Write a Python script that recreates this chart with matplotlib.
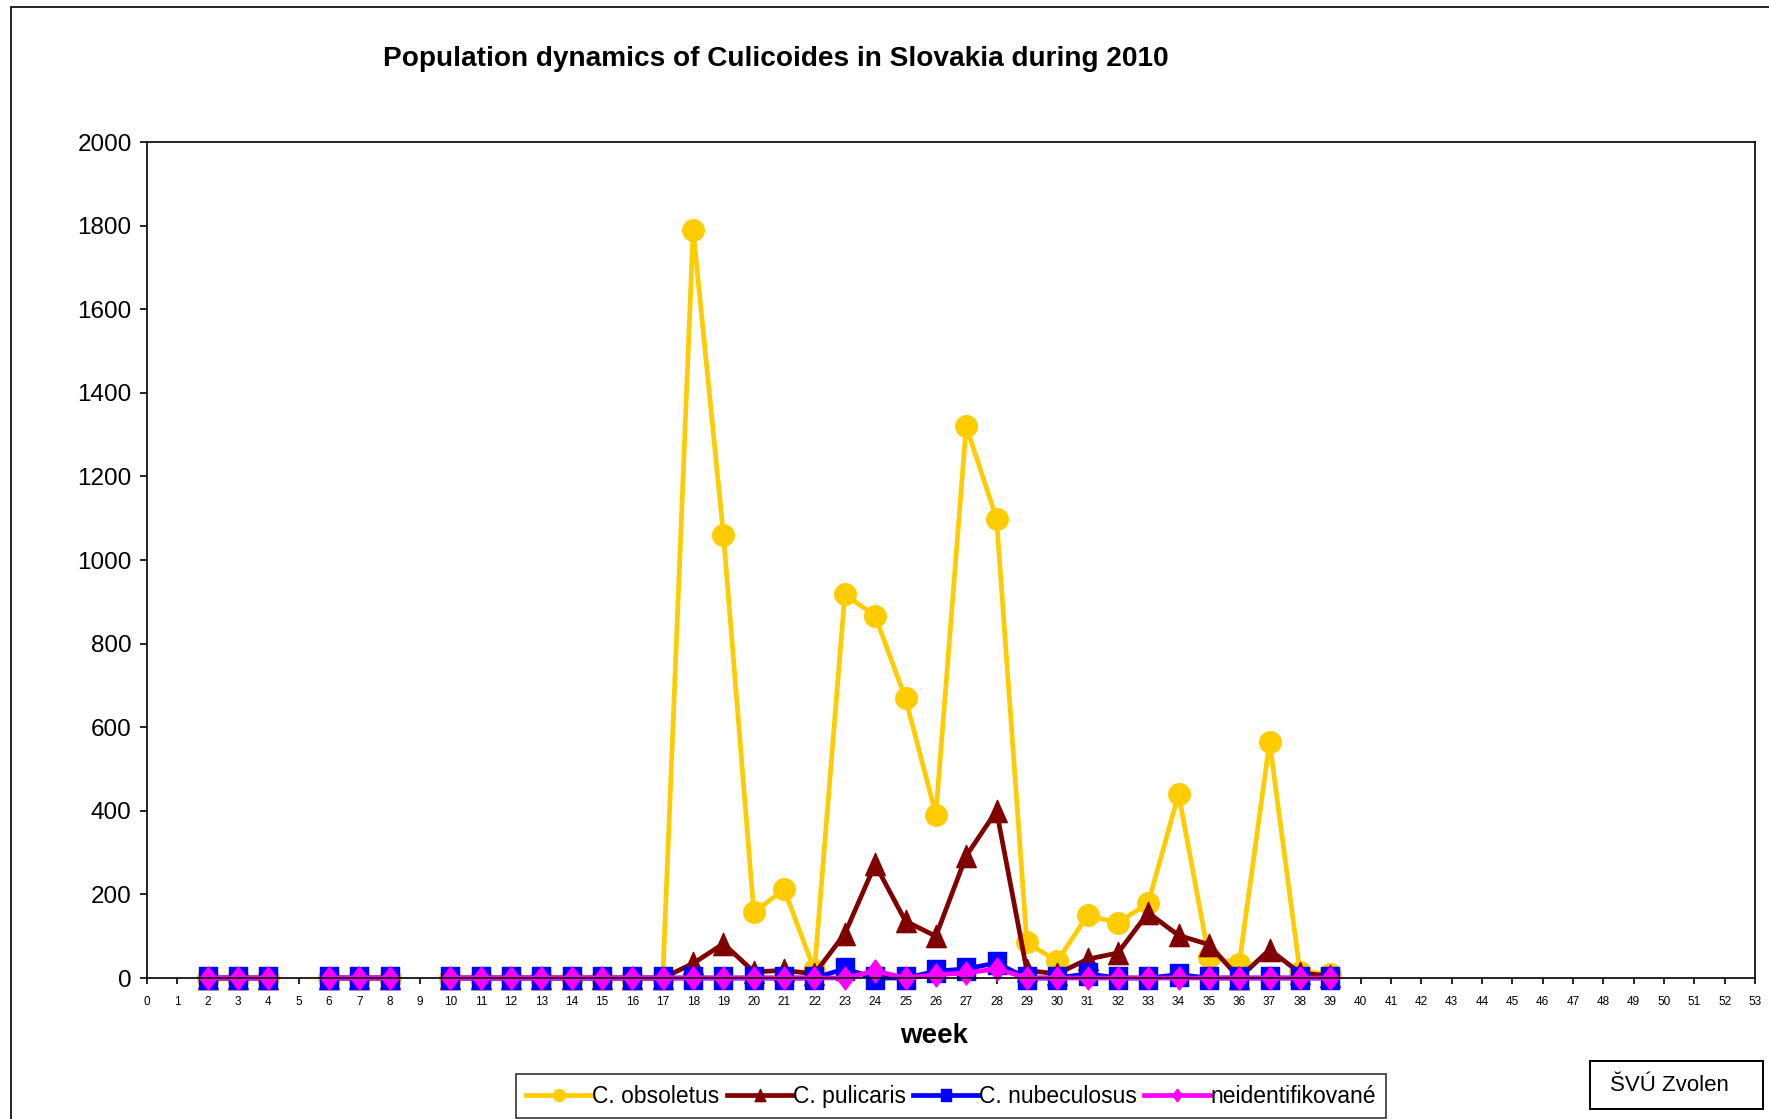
import numpy as np
import matplotlib.pyplot as plt
from matplotlib.path import Path

plt.rcParams['font.family'] = ['Liberation Sans', 'DejaVu Sans']

nan = np.nan

# weeks 0..53; traps not sampled in weeks 0, 1, 5, 9 and 40+
weeks = list(range(0, 54))

sampled = [2, 3, 4, 6, 7, 8] + list(range(10, 40))

obsoletus_vals = {17: 0, 18: 1790, 19: 1060, 20: 157, 21: 212, 22: 18, 23: 918, 24: 866,
                  25: 669, 26: 391, 27: 1320, 28: 1099, 29: 85, 30: 40, 31: 150, 32: 132,
                  33: 179, 34: 440, 35: 50, 36: 34, 37: 565, 38: 15, 39: 10}
pulicaris_vals = {18: 35, 19: 82, 20: 15, 21: 18, 22: 10, 23: 106, 24: 272, 25: 136,
                  26: 100, 27: 292, 28: 400, 29: 18, 30: 10, 31: 45, 32: 60, 33: 156,
                  34: 102, 35: 80, 36: 0, 37: 68, 38: 12, 39: 5}
nubeculosus_vals = {23: 22, 24: 0, 26: 16, 27: 22, 28: 36, 31: 10, 34: 8}
neident_vals = {24: 17, 26: 8, 27: 12, 28: 22}


def series(vals):
    return [vals.get(w, 0) if w in sampled else nan for w in weeks]


obsoletus = series(obsoletus_vals)
pulicaris = series(pulicaris_vals)
nubeculosus = series(nubeculosus_vals)
neident = series(neident_vals)

# slightly tall markers, like the original spreadsheet export
tall_square = Path([(-0.77, -1), (0.77, -1), (0.77, 1), (-0.77, 1), (-0.77, -1)], closed=True)
tall_diamond = Path([(0, 1), (0.75, 0), (0, -1), (-0.75, 0), (0, 1)], closed=True)
tall_tri = Path([(0, 1), (0.88, -1), (-0.88, -1), (0, 1)], closed=True)

fig = plt.figure(figsize=(17.69, 11.19), dpi=100)
ax = fig.add_axes([0.0831, 0.126, 0.909, 0.7471])

kw = dict(lw=3.4, clip_on=False)
ax.plot(weeks, obsoletus, color='#FFCC00', marker='o', ms=15.5, label='C. obsoletus', **kw)
ax.plot(weeks, pulicaris, color='#800000', marker=tall_tri, ms=16, label='C. pulicaris', **kw)
ax.plot(weeks, nubeculosus, color='#0000FF', marker=tall_square, ms=16.5, label='C. nubeculosus', **kw)
ax.plot(weeks, neident, color='#FF00FF', marker=tall_diamond, ms=16.5, label='neidentifikované', **kw)

ax.set_xlim(0, 53)
ax.set_ylim(0, 2000)
ax.set_xticks(weeks)
ax.set_xticklabels([str(w) for w in weeks], fontsize=8.5)
ax.set_yticks(range(0, 2001, 200))
ax.tick_params(axis='y', labelsize=17.5, length=5, width=1.2, direction='out', pad=6)
ax.tick_params(axis='x', length=4, width=1.2, direction='out', pad=9)
for s in ax.spines.values():
    s.set_linewidth(1.2)

fig.text(0.528, 0.074, 'week', ha='center', va='center', fontsize=20, fontweight='bold')

fig.text(0.4385, 0.9475, 'Population dynamics of Culicoides in Slovakia during 2010',
         ha='center', va='center', fontsize=20.2, fontweight='bold')

leg = fig.legend(loc='center', bbox_to_anchor=(0.5376, 0.0205), ncol=4, fontsize=16.5,
                 frameon=True, fancybox=False, edgecolor='black', markerscale=0.55,
                 handlelength=2.9, handletextpad=0.0, columnspacing=0.3,
                 borderpad=0.45)
leg.get_frame().set_linewidth(1.2)

# institution stamp in the lower right corner
fig.add_artist(plt.Rectangle((0.8986, 0.0091), 0.0982, 0.0423, transform=fig.transFigure,
                             fill=False, ec='black', lw=1.4))
fig.text(0.944, 0.0302, 'ŠVÚ Zvolen', ha='center', va='center', fontsize=16)

# outer chart frame
fig.add_artist(plt.Rectangle((0.0062, -0.01), 1.0, 1.0037, transform=fig.transFigure,
                             fill=False, ec='black', lw=1.2))

fig.savefig('out.png', dpi=100)
